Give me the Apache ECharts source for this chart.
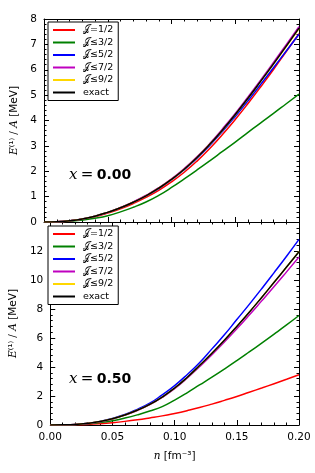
<!DOCTYPE html>
<html><head><meta charset="utf-8">
<script src="https://cdn.jsdelivr.net/npm/echarts@6/dist/echarts.min.js"></script>
<style>html,body{margin:0;padding:0;background:#fff}#c{width:315px;height:473px}</style>
</head><body><div id="c"></div>
<script>
// density n [fm^-3]
const nVals = [0,0.01,0.02,0.03,0.04,0.05,0.06,0.07,0.08,0.09,0.10,0.11,0.12,0.13,0.14,0.15,0.16,0.17,0.18,0.19,0.20];
const seriesNames = ['\u{1D4A5}=1/2','\u{1D4A5}\u22643/2','\u{1D4A5}\u22645/2','\u{1D4A5}\u22647/2','\u{1D4A5}\u22649/2','exact'];
const seriesColors = ['#ff0000','#008000','#0000ff','#bf00bf','#ffd700','#000000'];
// x = 0.00 panel
const top_J12  = [0,0.01,0.04,0.11,0.21,0.35,0.52,0.73,0.97,1.25,1.58,1.96,2.40,2.90,3.45,4.04,4.67,5.33,6.01,6.72,7.42];
const top_J32  = [0,0.005,0.03,0.08,0.15,0.25,0.40,0.58,0.79,1.05,1.36,1.70,2.05,2.41,2.78,3.15,3.53,3.91,4.28,4.66,5.04];
const top_J52  = [0,0.01,0.05,0.12,0.23,0.38,0.56,0.78,1.03,1.32,1.67,2.06,2.51,3.02,3.57,4.16,4.78,5.43,6.08,6.74,7.40];
const top_J72  = [0,0.01,0.05,0.12,0.23,0.38,0.57,0.79,1.05,1.35,1.70,2.11,2.57,3.09,3.67,4.28,4.93,5.60,6.29,6.99,7.70];
const top_J92  = [0,0.01,0.05,0.12,0.23,0.38,0.56,0.78,1.03,1.33,1.68,2.08,2.54,3.06,3.62,4.23,4.87,5.54,6.22,6.91,7.62];
const top_exact= [0,0.01,0.05,0.12,0.23,0.38,0.56,0.78,1.03,1.33,1.68,2.08,2.54,3.06,3.63,4.24,4.88,5.55,6.23,6.93,7.64];
// x = 0.50 panel
const bot_J12  = [0,0.003,0.015,0.04,0.09,0.16,0.25,0.36,0.49,0.63,0.80,0.99,1.20,1.44,1.70,1.97,2.26,2.55,2.85,3.15,3.46];
const bot_J32  = [0,0.005,0.03,0.08,0.17,0.30,0.48,0.70,0.96,1.27,1.72,2.22,2.76,3.30,3.86,4.44,5.04,5.65,6.27,6.90,7.55];
const bot_J52  = [0,0.01,0.04,0.12,0.25,0.45,0.72,1.08,1.50,2.08,2.72,3.47,4.30,5.25,6.22,7.27,8.32,9.40,10.51,11.64,12.80];
const bot_J72  = [0,0.01,0.04,0.11,0.23,0.42,0.68,1.00,1.40,1.90,2.50,3.22,4.02,4.85,5.72,6.63,7.58,8.56,9.55,10.56,11.58];
const bot_J92  = [0,0.01,0.04,0.12,0.24,0.43,0.69,1.02,1.42,1.93,2.55,3.28,4.10,4.95,5.85,6.80,7.78,8.80,9.84,10.89,11.97];
const bot_exact= [0,0.01,0.04,0.12,0.24,0.43,0.69,1.02,1.42,1.93,2.55,3.28,4.10,4.95,5.85,6.80,7.78,8.80,9.84,10.89,11.95];
const xTickLabels = ['0.00','0.05','0.10','0.15','0.20'];
const panelLabels = ['0.00','0.50'];

const topSets = [top_J12,top_J32,top_J52,top_J72,top_J92,top_exact];
const botSets = [bot_J12,bot_J32,bot_J52,bot_J72,bot_J92,bot_exact];

const FS = 10.5;
const font = 'DejaVu Sans';
function xAx(gi, pos, labels, name){
  return {type:'value', gridIndex:gi, position:pos, min:0, max:0.2, interval:0.05,
    axisLine:{show:true, onZero:false, lineStyle:{color:'#000', width:1}},
    axisTick:{show:true, inside:true, length:5, lineStyle:{color:'#000'}},
    minorTick:{show:true, splitNumber:5, length:2.5, lineStyle:{color:'#000'}},
    splitLine:{show:false},
    axisLabel:{show:labels, color:'#000', fontSize:FS, fontFamily:font, margin:7,
      formatter:v=>xTickLabels[Math.round(v/0.05)]},
    name: name? '{i|n} [fm\u207B\u00B3]':'', nameLocation:'middle', nameGap:26,
    nameTextStyle:{color:'#000', fontSize:FS, fontFamily:font,
      rich:{i:{fontFamily:'DejaVu Serif', fontStyle:'italic', fontSize:FS}}}
  };
}
function yAx(gi, pos, max, interval, labels, hideTop){
  return {type:'value', gridIndex:gi, position:pos, min:0, max:max, interval:interval,
    axisLine:{show:true, onZero:false, lineStyle:{color:'#000', width:1}},
    axisTick:{show:true, inside:true, length:5, lineStyle:{color:'#000'}},
    minorTick:{show:true, splitNumber:5, length:2.5, lineStyle:{color:'#000'}},
    splitLine:{show:false},
    axisLabel:{show:labels, color:'#000', fontSize:FS, fontFamily:font, margin:7,
      formatter:v=> (hideTop && v>=max) ? '' : String(v)},
    name: labels ? '{i|E}\u207D\u00B9\u207E / {i|A} [MeV]' : '', nameLocation:'middle', nameRotate:90, nameGap:20,
    nameTextStyle:{color:'#000', fontSize:FS, fontFamily:font,
      rich:{i:{fontFamily:'DejaVu Serif', fontStyle:'italic', fontSize:FS}}}
  };
}
const series = [];
[topSets, botSets].forEach((sets, gi)=>{
  sets.forEach((arr, k)=>{
    series.push({type:'line', name:seriesNames[k], xAxisIndex:gi*2, yAxisIndex:gi*2,
      data:nVals.map((n,i)=>[n, arr[i]]), smooth:true, symbol:'none',
      lineStyle:{width:1.5, color:seriesColors[k]}, itemStyle:{color:seriesColors[k]},
      z:2+k, animation:false});
  });
});
function legend(top){
  return {show:true, data:seriesNames, left:48, top:top, orient:'vertical',
    icon:'rect', itemWidth:22, itemHeight:2, itemGap:0.5,
    padding:[2,5,2,5], borderColor:'#000', borderWidth:1, backgroundColor:'#fff',
    selectedMode:false,
    textStyle:{fontSize:9.5, fontFamily:font, color:'#000', lineHeight:12, padding:[0,0,0,3]}};
}
function label(y, v){
  return {type:'text', left:69, top:y,
    style:{text:'{i|x} {e|=} {b|'+v+'}', rich:{
      i:{fontFamily:'DejaVu Serif', fontStyle:'italic', fontSize:15, fill:'#000'},
      e:{fontFamily:'DejaVu Serif', fontSize:15, fill:'#000'},
      b:{fontFamily:'DejaVu Sans', fontWeight:'bold', fontSize:14, fill:'#000'}}}};
}
const chart = echarts.init(document.getElementById('c'), null, {renderer:'canvas'});
chart.setOption({
  animation:false,
  backgroundColor:'#fff',
  grid:[{left:44, top:19, width:255, height:203},{left:44, top:222, width:255, height:203}],
  xAxis:[xAx(0,'bottom',false,false), xAx(0,'top',false,false), xAx(1,'bottom',true,true), xAx(1,'top',false,false)],
  yAxis:[yAx(0,'left',8,1,true,false), yAx(0,'right',8,1,false,false), yAx(1,'left',14,2,true,true), yAx(1,'right',14,2,false,false)],
  legend:[legend(22), legend(226)],
  series:series,
  graphic:[label(168, panelLabels[0]), label(372, panelLabels[1])]
});
</script></body></html>
